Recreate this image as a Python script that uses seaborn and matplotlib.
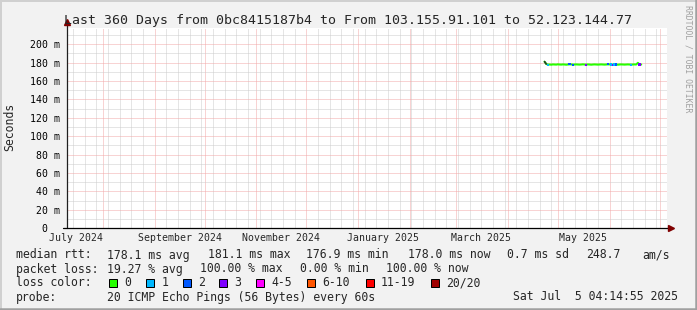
import numpy as np
import pandas as pd
import matplotlib
matplotlib.use("Agg")
import matplotlib.pyplot as plt
import matplotlib.dates as mdates
import matplotlib.transforms as mtrans
from matplotlib.patches import Rectangle
from matplotlib.lines import Line2D
from matplotlib.ticker import MultipleLocator
import seaborn as sns

# ---------------- data ----------------
title = "Last 360 Days from 0bc8415187b4 to From 103.155.91.101 to 52.123.144.77"
end_time = pd.Timestamp("2025-07-05 04:14:55")
span_days = 360

month_labels = ["July 2024", "September 2024", "November 2024",
                "January 2025", "March 2025", "May 2025"]
month_label_dates = ["2024-07-16", "2024-09-16", "2024-11-16",
                     "2025-01-16", "2025-03-16", "2025-05-16"]

y_ticks = [0, 20, 40, 60, 80, 100, 120, 140, 160, 180, 200]
y_tick_labels = ["0  ", "20 m", "40 m", "60 m", "80 m", "100 m", "120 m",
                 "140 m", "160 m", "180 m", "200 m"]

sample_start = "2025-04-23"
median_ms = [181.1, 178.6, 177.9, 178.0, 177.8, 178.1, 178.0, 177.9, 178.2, 178.0,
             177.9, 178.1, 178.0, 177.8, 178.0, 178.2, 178.1, 177.9, 178.0, 178.1,
             178.0, 177.9, 178.0, 178.2, 178.0, 177.9, 178.1, 178.0, 177.8, 178.0,
             178.1, 178.0, 177.9, 178.0, 178.1, 178.0, 177.9, 178.0, 178.2, 178.1,
             178.0, 177.9, 178.1, 178.0, 177.8, 178.0, 178.1, 178.0, 177.9, 178.0,
             178.1, 178.0, 177.9, 178.0, 178.1, 178.0, 179.8, 178.0, 178.0]
loss_count = [0, 0, 1, 0, 0, 0, 0, 0, 0, 0,
              0, 0, 0, 0, 0, 2, 0, 2, 0, 0,
              0, 0, 0, 0, 0, 3, 0, 0, 0, 0,
              0, 0, 0, 0, 0, 0, 0, 0, 2, 0,
              1, 3, 1, 2, 0, 0, 0, 0, 0, 0,
              0, 0, 1, 0, 0, 0, 0, 3, 0]

loss_bins = ["0", "1", "2", "3", "4-5", "6-10", "11-19", "20/20"]
loss_colors = ["#26ff00", "#00b8ff", "#0059ff", "#7e00ff",
               "#ff00ff", "#ff5500", "#ff0000", "#a00000"]

rtt_line = [("median rtt:", 16), ("178.1 ms avg", 107.3), ("181.1 ms max", 207.7),
            ("176.9 ms min", 306), ("178.0 ms now", 407.7), ("0.7 ms sd", 506.7),
            ("248.7", 586), ("am/s", 642)]
loss_line = [("packet loss:", 16), ("19.27 % avg", 107.3), ("100.00 % max", 200),
             ("0.00 % min", 300), ("100.00 % now", 386)]
box_x = [108.7, 146, 182.7, 219, 256, 307, 365.7, 430.7]
probe_text = "20 ICMP Echo Pings (56 Bytes) every 60s"
stamp_text = "Sat Jul  5 04:14:55 2025"

# ---------------- style ----------------
sns.set_style("white")
plt.rcParams["font.family"] = ["DejaVu Sans Mono"]

W, H = 697, 310
fig = plt.figure(figsize=(W / 100, H / 100), dpi=100)
fig.patch.set_facecolor("#f2f2f2")

def fx(x):
    return x / W

def fy(y):
    return 1 - y / H

ax_l, ax_r, ax_b, ax_t = 66.5, 666.5, 228.3, 27.7
ax = fig.add_axes([fx(ax_l), fy(ax_b), (ax_r - ax_l) / W, (ax_b - ax_t) / H])
ax.set_facecolor("white")

dates = pd.date_range(sample_start, periods=len(median_ms), freq="D")
df = pd.DataFrame({"date": dates, "ms": median_ms, "loss": loss_count})

def bin_of(n):
    if n <= 3:
        return loss_bins[n]
    if n <= 5:
        return "4-5"
    if n <= 10:
        return "6-10"
    if n <= 19:
        return "11-19"
    return "20/20"

df["bin"] = [bin_of(n) for n in df["loss"]]

sns.lineplot(data=df, x="date", y="ms", ax=ax, color=loss_colors[0],
             linewidth=1.5, zorder=3)
lossy = df[df["loss"] > 0]
sns.scatterplot(data=lossy, x="date", y="ms", hue="bin", ax=ax,
                palette=dict(zip(loss_bins, loss_colors)), marker="s", s=2.5,
                linewidth=0, legend=False, zorder=4)
# dark start (smoke)
ax.plot(df["date"][:2], df["ms"][:2], color="#2a3a2a", lw=1.2, zorder=3.5)

start_time = end_time - pd.Timedelta(days=span_days)
ax.set_xlim(start_time, end_time)
ax.set_ylim(0, 218)
ax.set_xlabel("")
ax.set_ylabel("")

ax.xaxis.set_major_locator(mdates.MonthLocator())
ax.xaxis.set_minor_locator(mdates.WeekdayLocator(byweekday=mdates.SU))
ax.xaxis.set_major_formatter(plt.NullFormatter())
ax.set_yticks(y_ticks)
ax.set_yticklabels(y_tick_labels)
ax.yaxis.set_minor_locator(MultipleLocator(10))

ax.grid(which="minor", color="#cdcdcd", linestyle=(0, (1, 1)), linewidth=0.72, zorder=0)
ax.grid(which="major", color="#f2a8a8", linestyle=(0, (1, 1)), linewidth=0.72, zorder=1)
ax.set_axisbelow(True)

ax.tick_params(axis="both", which="major", length=2.5, width=0.72, color="#e08080",
               direction="out", labelsize=7.1, labelcolor="black")
ax.tick_params(axis="both", which="minor", length=2.0, width=0.72, color="#b0b0b0",
               direction="out")
ax.tick_params(axis="y", which="major", pad=2.0)

for s in ax.spines.values():
    s.set_visible(False)

# axes lines with arrows
ax_h = ax_b - ax_t
ax_w = ax_r - ax_l
ax.plot([0, 0], [0, 1 + 4 / ax_h], transform=ax.transAxes, color="#202020",
        lw=0.9, clip_on=False, zorder=5)
ax.plot([-3.5 / ax_w, 1 + 2 / ax_w], [0, 0], transform=ax.transAxes, color="#000000",
        lw=0.9, clip_on=False, zorder=5)
ax.plot([0], [1 + 5.5 / ax_h], marker="^", ms=4, color="#800000",
        transform=ax.transAxes, clip_on=False, zorder=6)
ax.plot([1 + 4 / ax_w], [0], marker=">", ms=4, color="#800000",
        transform=ax.transAxes, clip_on=False, zorder=6)

# month labels
tr = mtrans.blended_transform_factory(ax.transData, fig.transFigure)
for lab, d in zip(month_labels, month_label_dates):
    ax.text(mdates.date2num(pd.Timestamp(d)), fy(241), lab, transform=tr,
            ha="center", va="baseline", fontsize=7.1)

# title, y label, watermark
fig.text(0.5, fy(24), title, ha="center", va="baseline", fontsize=9.5)
fig.text(fx(10), fy(127), "Seconds", rotation=90, ha="center", va="center", fontsize=8.3)
fig.text(fx(688), fy(5), "RRDTOOL / TOBI OETIKER", rotation=270, ha="center",
         va="top", fontsize=5.9, color="#a0a0a0")

# legend
lf = 8.3
for txt, x in rtt_line:
    fig.text(fx(x), fy(258.5), txt, ha="left", va="baseline", fontsize=lf)
for txt, x in loss_line:
    fig.text(fx(x), fy(272.5), txt, ha="left", va="baseline", fontsize=lf)
fig.text(fx(16), fy(286.5), "loss color:", ha="left", va="baseline", fontsize=lf)
for lab, col, x in zip(loss_bins, loss_colors, box_x):
    fig.add_artist(Rectangle((fx(x), fy(287)), 8 / W, 8 / H, transform=fig.transFigure,
                             facecolor=col, edgecolor="black", lw=0.72))
    fig.text(fx(x + 15.3), fy(286.5), lab, ha="left", va="baseline", fontsize=lf)
fig.text(fx(16), fy(300.5), "probe:", ha="left", va="baseline", fontsize=lf)
fig.text(fx(107.3), fy(300.5), probe_text, ha="left", va="baseline", fontsize=lf)
fig.text(fx(513.3), fy(300.5), stamp_text, ha="left", va="baseline", fontsize=lf)

# 3D frame
fig.add_artist(Line2D([0, 1], [fy(0.7), fy(0.7)], color="#d0d0d0", lw=1.44, transform=fig.transFigure))
fig.add_artist(Line2D([fx(0.7), fx(0.7)], [0, 1], color="#d0d0d0", lw=1.44, transform=fig.transFigure))
fig.add_artist(Line2D([0, 1], [fy(309.0), fy(309.0)], color="#a0a0a0", lw=1.8, transform=fig.transFigure))
fig.add_artist(Line2D([fx(696.0), fx(696.0)], [0, 1], color="#a0a0a0", lw=1.8, transform=fig.transFigure))

fig.savefig("out.png", dpi=100, facecolor=fig.get_facecolor())
